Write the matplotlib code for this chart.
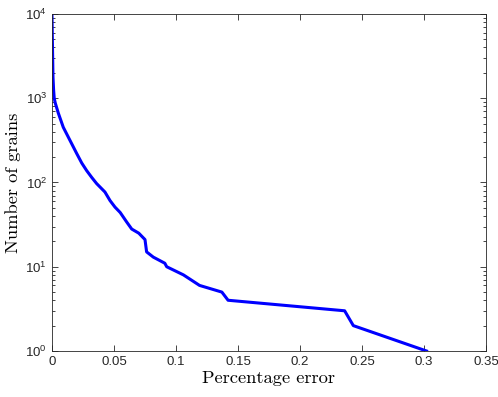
import numpy as np
import matplotlib
matplotlib.use('Agg')
import matplotlib.pyplot as plt
from matplotlib.ticker import LogLocator, NullFormatter

plt.rcParams['font.family'] = ['Liberation Sans', 'DejaVu Sans']

# percentage error of each grain (sorted) vs number of grains with at least that error
err = [0.0, 0.0003, 0.0008, 0.0013, 0.0018, 0.0026, 0.0051, 0.0091, 0.0145, 0.0199,
       0.024, 0.028, 0.032, 0.036, 0.0427, 0.0468, 0.0508, 0.055, 0.0602, 0.0643,
       0.07, 0.075, 0.0763, 0.0817, 0.091, 0.0925, 0.106, 0.119, 0.137, 0.142,
       0.236, 0.243, 0.302]
grains = [9500, 5000, 1780, 1250, 1000, 880, 665, 452, 316, 221,
          170, 138, 115, 97, 77, 61, 51, 44, 34, 28,
          25, 21, 15, 13, 11, 10, 8, 6, 5, 4,
          3, 2, 1]

xticks = [0, 0.05, 0.1, 0.15, 0.2, 0.25, 0.3, 0.35]
xticklabels = ['0', '0.05', '0.1', '0.15', '0.2', '0.25', '0.3', '0.35']

fig = plt.figure(figsize=(4.98, 3.97), dpi=100)
ax = fig.add_axes([0.1044, 0.1159, 0.8715, 0.849])

ax.plot(err, grains, color=(0, 0, 1), linewidth=2.2)

ax.set_yscale('log')
ax.set_xlim(0, 0.35)
ax.set_ylim(1, 1e4)
ax.set_xticks(xticks)
ax.set_xticklabels(xticklabels)
ax.yaxis.set_major_locator(LogLocator(base=10, numticks=10))
ax.yaxis.set_minor_locator(LogLocator(base=10, subs=np.arange(2, 10), numticks=10))
ax.yaxis.set_minor_formatter(NullFormatter())

gray = '#262626'
for s in ax.spines.values():
    s.set_color(gray)
    s.set_linewidth(0.6)
ax.tick_params(which='both', direction='in', top=True, right=True, colors=gray,
               labelsize=9.5, width=0.6)
ax.tick_params(which='major', length=4.5)
ax.tick_params(which='minor', length=2.5)

ax.set_xlabel('Percentage error', fontfamily='cmr10', fontsize=13.3, color='k', labelpad=2)
ax.set_ylabel('Number of grains', fontfamily='cmr10', fontsize=13.3, color='k', labelpad=3)

fig.savefig('out.png', dpi=100)
